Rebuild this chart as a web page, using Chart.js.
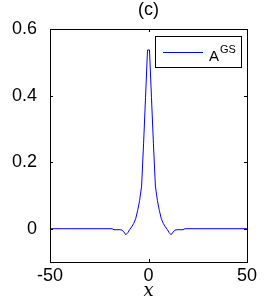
<!DOCTYPE html>
<html>
<head>
<meta charset="utf-8">
<script src="https://cdn.jsdelivr.net/npm/chart.js@4.4.1/dist/chart.umd.min.js"></script>
<style>
  html, body { margin: 0; padding: 0; background: #fff; }
  #wrap { width: 266px; height: 302px; }
</style>
</head>
<body>
<div id="wrap"><canvas id="myChart" width="266" height="302"></canvas></div>
<script>
// values (symmetric profile around x = 0)
const xValues = [-50, -18.5, -17.5, -15.5, -14.5, -13.5, -12.5, -11.5, -10.5, -9.5, -8.5, -7.5, -6.5, -5.5, -4.5, -3.5, -2.5, -1.5, -0.5,
                 0.5, 1.5, 2.5, 3.5, 4.5, 5.5, 6.5, 7.5, 8.5, 9.5, 10.5, 11.5, 12.5, 13.5, 14.5, 15.5, 17.5, 18.5, 50];
const aGS = [0, 0, -0.003, -0.003, -0.003, -0.004, -0.010, -0.018, -0.012, -0.002, 0.006, 0.016, 0.030, 0.055, 0.085, 0.128, 0.255, 0.395, 0.537,
             0.537, 0.395, 0.255, 0.128, 0.085, 0.055, 0.030, 0.016, 0.006, -0.002, -0.012, -0.018, -0.010, -0.004, -0.003, -0.003, -0.003, 0, 0];
const xTicks = [-50, 0, 50];
const yTicks = [0, 0.2, 0.4, 0.6];
const titleText = '(c)';
const xLabel = 'x';

const FONT = 'Liberation Sans, Arial, Helvetica, sans-serif';

// MATLAB-like box, inward ticks, title, xlabel and legend
const matlabAxes = {
  id: 'matlabAxes',
  afterDraw(chart) {
    const ctx = chart.ctx;
    const a = chart.chartArea;
    const xs = chart.scales.x, ys = chart.scales.y;
    ctx.save();
    ctx.strokeStyle = '#000';
    ctx.lineWidth = 1;
    ctx.strokeRect(Math.round(a.left) + 0.5, Math.round(a.top) + 0.5,
                   Math.round(a.right - a.left), Math.round(a.bottom - a.top));
    ctx.beginPath();
    xTicks.forEach(v => {
      const px = Math.round(xs.getPixelForValue(v)) + 0.5;
      ctx.moveTo(px, a.bottom); ctx.lineTo(px, a.bottom - 3);
      ctx.moveTo(px, a.top); ctx.lineTo(px, a.top + 3);
    });
    yTicks.forEach(v => {
      const py = Math.round(ys.getPixelForValue(v)) + 0.5;
      ctx.moveTo(a.left, py); ctx.lineTo(a.left + 3, py);
      ctx.moveTo(a.right, py); ctx.lineTo(a.right - 3, py);
    });
    ctx.stroke();

    // title
    ctx.fillStyle = '#000';
    ctx.textAlign = 'center';
    ctx.textBaseline = 'middle';
    ctx.font = '18px ' + FONT;
    ctx.fillText(titleText, (a.left + a.right) / 2, 10);

    // x label
    ctx.font = 'italic 18px "DejaVu Serif", serif';
    ctx.fillText(xLabel, (a.left + a.right) / 2, 291);

    // legend
    const bx = 155.5, by = 36.5, bw = 86, bh = 31;
    ctx.fillStyle = '#fff';
    ctx.fillRect(bx, by, bw, bh);
    ctx.strokeRect(bx, by, bw, bh);
    ctx.strokeStyle = '#0000ff';
    ctx.beginPath();
    ctx.moveTo(163, 52.5); ctx.lineTo(203, 52.5);
    ctx.stroke();
    ctx.fillStyle = '#000';
    ctx.textAlign = 'left';
    ctx.textBaseline = 'alphabetic';
    ctx.font = '15px ' + FONT;
    ctx.fillText('A', 209, 61);
    ctx.font = '11px ' + FONT;
    ctx.fillText('GS', 220, 53);
    ctx.restore();
  }
};

new Chart(document.getElementById('myChart').getContext('2d'), {
  type: 'scatter',
  data: {
    datasets: [{
      label: 'AGS',
      data: xValues.map((x, i) => ({ x: x, y: aGS[i] })),
      showLine: true,
      borderColor: '#0000ff',
      borderWidth: 1,
      pointRadius: 0,
      tension: 0
    }]
  },
  options: {
    responsive: false,
    animation: false,
    layout: { padding: { left: 0, right: 19, top: 29, bottom: 0 } },
    plugins: { legend: { display: false }, tooltip: { enabled: false } },
    scales: {
      x: {
        type: 'linear', min: -50, max: 50,
        afterBuildTicks: s => { s.ticks = xTicks.map(v => ({ value: v })); },
        afterFit: s => { s.height = 40; },
        grid: { display: false },
        border: { display: false },
        ticks: { color: '#000', font: { family: FONT, size: 18 }, padding: -5, maxRotation: 0 }
      },
      y: {
        type: 'linear', min: -0.1, max: 0.6,
        afterBuildTicks: s => { s.ticks = yTicks.map(v => ({ value: v })); },
        afterFit: s => { s.width = 50; },
        grid: { display: false },
        border: { display: false },
        ticks: { color: '#000', font: { family: FONT, size: 18 }, padding: 5,
                 callback: v => String(v) }
      }
    }
  },
  plugins: [matlabAxes]
});
</script>
</body>
</html>
